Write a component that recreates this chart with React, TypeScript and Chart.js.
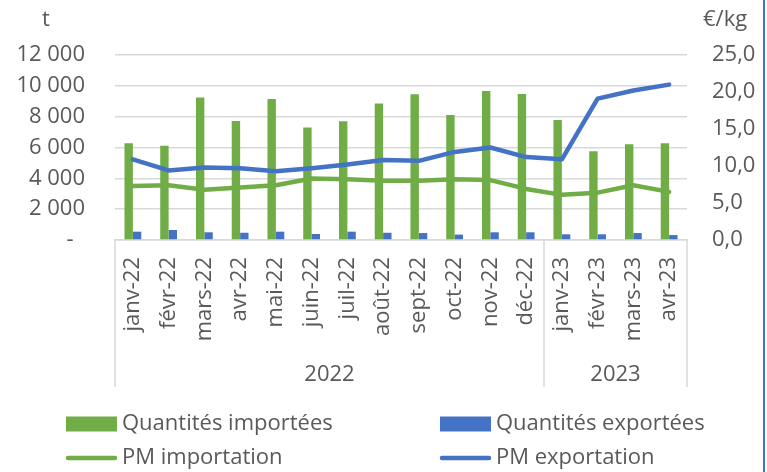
import React, { useEffect, useRef } from "react";
import { Chart, registerables } from "chart.js";

Chart.register(...registerables);

const months = [
  "janv-22", "févr-22", "mars-22", "avr-22", "mai-22", "juin-22", "juil-22", "août-22",
  "sept-22", "oct-22", "nov-22", "déc-22", "janv-23", "févr-23", "mars-23", "avr-23",
];
const years = ["2022", "2023"];
const yearCounts = [12, 4];

const qtyImported = [6270, 6120, 9250, 7720, 9150, 7290, 7700, 8860, 9450, 8110, 9660, 9470, 7790, 5750, 6210, 6270];
const qtyExported = [540, 650, 500, 470, 540, 390, 540, 470, 450, 350, 500, 500, 370, 370, 450, 320];
const pmImport = [7.3, 7.4, 6.8, 7.1, 7.4, 8.3, 8.2, 8.0, 8.0, 8.2, 8.1, 6.9, 6.1, 6.4, 7.4, 6.5];
const pmExport = [10.9, 9.4, 9.8, 9.7, 9.3, 9.7, 10.2, 10.8, 10.7, 11.9, 12.5, 11.2, 10.9, 19.1, 20.2, 21.0];

const leftTicks = [0, 2000, 4000, 6000, 8000, 10000, 12000];
const rightTicks = [0, 5, 10, 15, 20, 25];

const GREEN = "#70AD47";
const BLUE = "#4472C4";
const TEXT = "#595959";
const GRID = "#D9D9D9";
const FONT = "'Open Sans', sans-serif";
const FS = 22;

const decor = {
  id: "decor",
  afterDraw(chart: any) {
    const ctx = chart.ctx;
    const xs = chart.scales.x;
    const area = chart.chartArea;
    ctx.save();
    // group separators
    const edges: number[] = [area.left];
    let idx = 0;
    yearCounts.forEach((c, gi) => {
      idx += c;
      if (gi < yearCounts.length - 1) {
        edges.push((xs.getPixelForValue(idx - 1) + xs.getPixelForValue(idx)) / 2);
      }
    });
    edges.push(area.right);
    ctx.strokeStyle = GRID;
    ctx.lineWidth = 1.5;
    edges.forEach((e) => {
      ctx.beginPath();
      ctx.moveTo(e, area.bottom);
      ctx.lineTo(e, area.bottom + 147);
      ctx.stroke();
    });
    ctx.fillStyle = TEXT;
    ctx.font = `${FS}px ${FONT}`;
    ctx.textAlign = "center";
    ctx.textBaseline = "middle";
    years.forEach((y, i) => {
      ctx.fillText(y, (edges[i] + edges[i + 1]) / 2, 375);
    });
    // axis unit titles
    ctx.fillText("t", 46, 20);
    ctx.textAlign = "left";
    ctx.fillText("€/kg", 703, 20);
    // legend
    const items = [
      { label: "Quantités importées", color: GREEN, type: "box", x: 66, y: 424 },
      { label: "Quantités exportées", color: BLUE, type: "box", x: 440, y: 424 },
      { label: "PM importation", color: GREEN, type: "line", x: 66, y: 458 },
      { label: "PM exportation", color: BLUE, type: "line", x: 440, y: 458 },
    ];
    items.forEach((it) => {
      if (it.type === "box") {
        ctx.fillStyle = it.color;
        ctx.fillRect(it.x, it.y - 7.5, 51, 15);
      } else {
        ctx.strokeStyle = it.color;
        ctx.lineWidth = 4.5;
        ctx.lineCap = "round";
        ctx.beginPath();
        ctx.moveTo(it.x + 2, it.y);
        ctx.lineTo(it.x + 49, it.y);
        ctx.stroke();
      }
      ctx.fillStyle = TEXT;
      ctx.textAlign = "left";
      ctx.fillText(it.label, it.x + 56, it.y);
    });
    // right frame line
    ctx.fillStyle = BLUE;
    ctx.fillRect(763, 0, 2, 472);
    ctx.restore();
  },
};

function fmtThousands(v: number): string {
  if (v === 0) return "-  ";
  return String(v).replace(/\B(?=(\d{3})+(?!\d))/g, " ");
}

export default function App() {
  const ref = useRef<HTMLCanvasElement | null>(null);
  useEffect(() => {
    if (!ref.current) return;
    const chart = new Chart(ref.current, {
      type: "bar",
      data: {
        labels: months,
        datasets: [
          { type: "line", label: "PM importation", data: pmImport, yAxisID: "y1", borderColor: GREEN, backgroundColor: GREEN, borderWidth: 4.5, pointRadius: 0, tension: 0, borderCapStyle: "round", borderJoinStyle: "round", order: 0 } as any,
          { type: "line", label: "PM exportation", data: pmExport, yAxisID: "y1", borderColor: BLUE, backgroundColor: BLUE, borderWidth: 4.5, pointRadius: 0, tension: 0, borderCapStyle: "round", borderJoinStyle: "round", order: 0 } as any,
          { type: "bar", label: "Quantités importées", data: qtyImported, yAxisID: "y", backgroundColor: GREEN, categoryPercentage: 0.47, barPercentage: 1, order: 1 },
          { type: "bar", label: "Quantités exportées", data: qtyExported, yAxisID: "y", backgroundColor: BLUE, categoryPercentage: 0.47, barPercentage: 1, order: 1 },
        ],
      },
      options: {
        responsive: false,
        animation: false,
        layout: { padding: { top: 55, bottom: 72, left: 0, right: 0 } },
        plugins: { legend: { display: false }, tooltip: { enabled: false } },
        scales: {
          x: {
            grid: { display: false, drawTicks: false },
            border: { display: true, color: GRID, width: 1.5 },
            ticks: { color: TEXT, font: { family: FONT, size: FS }, minRotation: 90, maxRotation: 90, padding: 17, autoSkip: false },
            afterFit: (s: any) => { s.height = 160; },
          },
          y: {
            position: "left",
            min: 0,
            max: 12000,
            afterBuildTicks: (s: any) => { s.ticks = leftTicks.map((v) => ({ value: v })); },
            grid: { color: GRID, lineWidth: 1.5, drawTicks: false },
            border: { display: false },
            ticks: { color: TEXT, font: { family: FONT, size: FS }, padding: 30, callback: (v: any) => fmtThousands(Number(v)) },
            afterFit: (s: any) => { s.width = 115; },
          },
          y1: {
            position: "right",
            min: 0,
            max: 25,
            afterBuildTicks: (s: any) => { s.ticks = rightTicks.map((v) => ({ value: v })); },
            grid: { display: false, drawTicks: false },
            border: { display: false },
            ticks: { color: TEXT, font: { family: FONT, size: FS }, padding: 25, callback: (v: any) => Number(v).toFixed(1).replace(".", ",") },
            afterFit: (s: any) => { s.width = 80; },
          },
        },
      },
      plugins: [decor],
    });
    return () => chart.destroy();
  }, []);
  return (
    <div style={{ position: "fixed", left: 0, top: 0, width: 767, height: 472, background: "#fff" }}>
      <canvas ref={ref} width={767} height={472} />
    </div>
  );
}
